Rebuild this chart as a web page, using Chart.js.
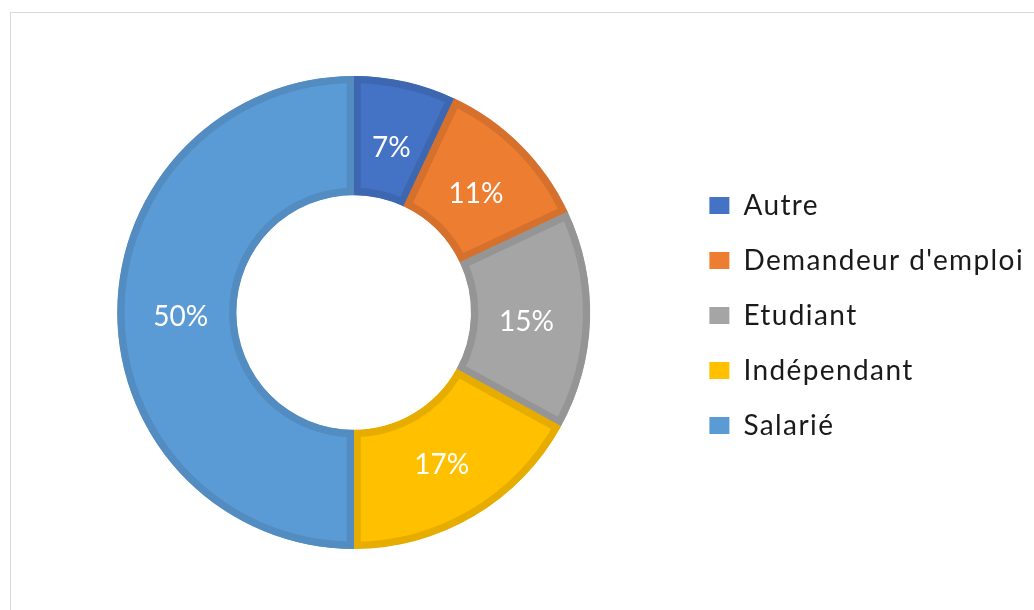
<!DOCTYPE html>
<html>
<head>
<meta charset="utf-8">
<script src="https://cdn.jsdelivr.net/npm/chart.js@4.4.1/dist/chart.umd.min.js"></script>
<style>
    html, body { margin: 0; padding: 0; background: #fff; overflow: hidden; }
    #frame { position: absolute; left: 10px; top: 12px; width: 1100px; height: 700px; border: 1px solid #d9d9d9; }
    #wrap { position: absolute; left: 0; top: 0; width: 1034px; height: 610px; }
</style>
</head>
<body>
<div id="frame"></div>
<div id="wrap"><canvas id="statut-chart" width="1034" height="610"></canvas></div>
<script>
// Data
const categories = ['Autre', "Demandeur d'emploi", 'Etudiant', 'Indépendant', 'Salarié'];
const shares = [7, 11, 15, 17, 50];
const fillColors = ['#4472C4', '#ED7D31', '#A5A5A5', '#FFC000', '#5B9BD5'];
const edgeColors = ['#3D67B1', '#D5712C', '#959595', '#E6AD00', '#528CC0'];

// Wider letter spacing for the legend text, like the original
const spacedText = {
    id: 'spacedText',
    beforeLayout(chart) { chart.ctx.letterSpacing = '1.4px'; },
    beforeDraw(chart) { chart.ctx.letterSpacing = '1.4px'; }
};

// Draw the percentage inside each slice
const sliceLabels = {
    id: 'sliceLabels',
    afterDatasetsDraw(chart) {
        const ctx = chart.ctx;
        const meta = chart.getDatasetMeta(0);
        ctx.save();
        ctx.letterSpacing = '0px';
        ctx.fillStyle = '#ffffff';
        ctx.font = '28px Lato';
        ctx.textAlign = 'center';
        ctx.textBaseline = 'middle';
        meta.data.forEach((arc, i) => {
            const p = arc.getProps(['x', 'y', 'startAngle', 'endAngle', 'innerRadius', 'outerRadius']);
            const mid = (p.startAngle + p.endAngle) / 2;
            const r = (p.innerRadius + p.outerRadius) / 2 - 4;
            ctx.fillText(chart.data.datasets[0].data[i] + '%', p.x + Math.cos(mid) * r, p.y + Math.sin(mid) * r + 4);
        });
        ctx.restore();
    }
};

document.addEventListener('DOMContentLoaded', function() {
    const chartElement = document.getElementById('statut-chart');
    const baseLabels = Chart.overrides.doughnut.plugins.legend.labels.generateLabels;

    new Chart(chartElement, {
        type: 'doughnut',
        data: {
            labels: categories,
            datasets: [{
                data: shares,
                backgroundColor: fillColors,
                borderColor: edgeColors,
                borderWidth: 7,
                borderAlign: 'inner'
            }]
        },
        options: {
            responsive: false,
            animation: false,
            cutout: '49.6%',
            layout: {
                padding: { top: 76, bottom: 61, left: 25, right: 0 }
            },
            plugins: {
                legend: {
                    position: 'right',
                    title: { display: true, text: '', font: { size: 5 }, padding: 0 },
                    labels: {
                        color: '#1a1a1a',
                        font: { family: 'Lato', size: 28 },
                        boxWidth: 20,
                        boxHeight: 17,
                        padding: 27,
                        generateLabels: function(chart) {
                            return baseLabels(chart).map(item => ({ ...item, lineWidth: 0 }));
                        }
                    }
                },
                tooltip: { enabled: false }
            }
        },
        plugins: [spacedText, sliceLabels]
    });
});
</script>
</body>
</html>
